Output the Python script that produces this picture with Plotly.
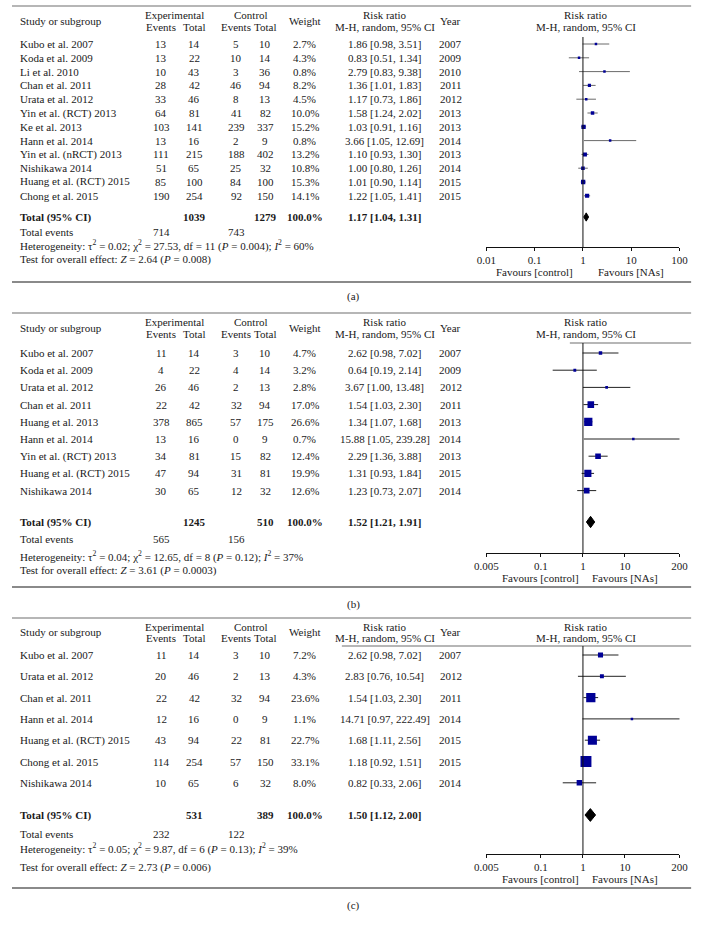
import numpy as np
import plotly.graph_objects as go

# ---------------- data ----------------
studies_a = ["Kubo et al. 2007", "Koda et al. 2009", "Li et al. 2010", "Chan et al. 2011",
             "Urata et al. 2012", "Yin et al. (RCT) 2013", "Ke et al. 2013", "Hann et al. 2014",
             "Yin et al. (nRCT) 2013", "Nishikawa 2014", "Huang et al. (RCT) 2015", "Chong et al. 2015"]
exp_events_a = [13, 13, 10, 28, 33, 64, 103, 13, 111, 51, 85, 190]
exp_total_a = [14, 22, 43, 42, 46, 81, 141, 16, 215, 65, 100, 254]
ctrl_events_a = [5, 10, 3, 46, 8, 41, 239, 2, 188, 25, 84, 92]
ctrl_total_a = [10, 14, 36, 94, 13, 82, 337, 9, 402, 32, 100, 150]
weight_a = [2.7, 4.3, 0.8, 8.2, 4.5, 10.0, 15.2, 0.8, 13.2, 10.8, 15.3, 14.1]
rr_a = [1.86, 0.83, 2.79, 1.36, 1.17, 1.58, 1.03, 3.66, 1.10, 1.00, 1.01, 1.22]
lo_a = [0.98, 0.51, 0.83, 1.01, 0.73, 1.24, 0.91, 1.05, 0.93, 0.80, 0.90, 1.05]
hi_a = [3.51, 1.34, 9.38, 1.83, 1.86, 2.02, 1.16, 12.69, 1.30, 1.26, 1.14, 1.41]
year_a = [2007, 2009, 2010, 2011, 2012, 2013, 2013, 2014, 2013, 2014, 2015, 2015]
total_a = dict(exp_total=1039, ctrl_total=1279, weight="100.0%", rr=1.17, lo=1.04, hi=1.31,
               exp_events=714, ctrl_events=743)
het_a = "Heterogeneity: τ<sup>2</sup> = 0.02; χ<sup>2</sup> = 27.53, df = 11 (<i>P</i> = 0.004); <i>I</i><sup>2</sup> = 60%"
test_a = "Test for overall effect: <i>Z</i> = 2.64 (<i>P</i> = 0.008)"
ticks_a = [0.01, 0.1, 1, 10, 100]
ticktext_a = ["0.01", "0.1", "1", "10", "100"]

studies_b = ["Kubo et al. 2007", "Koda et al. 2009", "Urata et al. 2012", "Chan et al. 2011",
             "Huang et al. 2013", "Hann et al. 2014", "Yin et al. (RCT) 2013",
             "Huang et al. (RCT) 2015", "Nishikawa 2014"]
exp_events_b = [11, 4, 26, 22, 378, 13, 34, 47, 30]
exp_total_b = [14, 22, 46, 42, 865, 16, 81, 94, 65]
ctrl_events_b = [3, 4, 2, 32, 57, 0, 15, 31, 12]
ctrl_total_b = [10, 14, 13, 94, 175, 9, 82, 81, 32]
weight_b = [4.7, 3.2, 2.8, 17.0, 26.6, 0.7, 12.4, 19.9, 12.6]
rr_b = [2.62, 0.64, 3.67, 1.54, 1.34, 15.88, 2.29, 1.31, 1.23]
lo_b = [0.98, 0.19, 1.00, 1.03, 1.07, 1.05, 1.36, 0.93, 0.73]
hi_b = [7.02, 2.14, 13.48, 2.30, 1.68, 239.28, 3.88, 1.84, 2.07]
year_b = [2007, 2009, 2012, 2011, 2013, 2014, 2013, 2015, 2014]
total_b = dict(exp_total=1245, ctrl_total=510, weight="100.0%", rr=1.52, lo=1.21, hi=1.91,
               exp_events=565, ctrl_events=156)
het_b = "Heterogeneity: τ<sup>2</sup> = 0.04; χ<sup>2</sup> = 12.65, df = 8 (<i>P</i> = 0.12); <i>I</i><sup>2</sup> = 37%"
test_b = "Test for overall effect: <i>Z</i> = 3.61 (<i>P</i> = 0.0003)"
ticks_bc = [0.005, 0.1, 1, 10, 200]
ticktext_bc = ["0.005", "0.1", "1", "10", "200"]

studies_c = ["Kubo et al. 2007", "Urata et al. 2012", "Chan et al. 2011", "Hann et al. 2014",
             "Huang et al. (RCT) 2015", "Chong et al. 2015", "Nishikawa 2014"]
exp_events_c = [11, 20, 22, 12, 43, 114, 10]
exp_total_c = [14, 46, 42, 16, 94, 254, 65]
ctrl_events_c = [3, 2, 32, 0, 22, 57, 6]
ctrl_total_c = [10, 13, 94, 9, 81, 150, 32]
weight_c = [7.2, 4.3, 23.6, 1.1, 22.7, 33.1, 8.0]
rr_c = [2.62, 2.83, 1.54, 14.71, 1.68, 1.18, 0.82]
lo_c = [0.98, 0.76, 1.03, 0.97, 1.11, 0.92, 0.33]
hi_c = [7.02, 10.54, 2.30, 222.49, 2.56, 1.51, 2.06]
year_c = [2007, 2012, 2011, 2014, 2015, 2015, 2014]
total_c = dict(exp_total=531, ctrl_total=389, weight="100.0%", rr=1.50, lo=1.12, hi=2.00,
               exp_events=232, ctrl_events=122)
het_c = "Heterogeneity: τ<sup>2</sup> = 0.05; χ<sup>2</sup> = 9.87, df = 6 (<i>P</i> = 0.13); <i>I</i><sup>2</sup> = 39%"
test_c = "Test for overall effect: <i>Z</i> = 2.73 (<i>P</i> = 0.006)"

# ---------------- layout / style ----------------
W, H = 704, 926
FONT = "Liberation Serif"
FS = 11
TXT = "#1a1a1a"
BLUE = "#000096"

def px(x):
    return x / W

def py(y):
    return 1 - y / H

# column centres (pixels)
X_LABEL = 6
X_EE, X_ET, X_EXP = 154, 188, 167
X_CE, X_CT, X_CTL = 231, 261, 246
X_W = 302
X_RR = 384
X_YR = 452
X_FOREST_HDR = 592
FX0, FX1 = 489, 688

panels = [
    dict(label="(a)", studies=studies_a, ee=exp_events_a, et=exp_total_a, ce=ctrl_events_a,
         ct=ctrl_total_a, w=weight_a, rr=rr_a, lo=lo_a, hi=hi_a, yr=year_a, tot=total_a,
         het=het_a, test=test_a, ticks=ticks_a, ticktext=ticktext_a,
         top_rule=6, h1=14.5, h2=27, hs=21, row0=44, step=13.8, total_px=217,
         ev_px=232, het_px=245.5, test_px=259.5, axis_px=247, fav_px=272, vtop=37,
         bottom_rule=282, label_px=297, hdr_line=None, msize=1.1, cicol="#6a6a6a", dh=0.3),
    dict(label="(b)", studies=studies_b, ee=exp_events_b, et=exp_total_b, ce=ctrl_events_b,
         ct=ctrl_total_b, w=weight_b, rr=rr_b, lo=lo_b, hi=hi_b, yr=year_b, tot=total_b,
         het=het_b, test=test_b, ticks=ticks_bc, ticktext=ticktext_bc,
         top_rule=313, h1=322, h2=334.5, hs=328, row0=353, step=17.2, total_px=522,
         ev_px=539, het_px=556, test_px=570, axis_px=553, fav_px=578, vtop=343,
         bottom_rule=587, label_px=604, hdr_line=(575, 700, 343), msize=1.6, cicol="#222222", dh=0.33),
    dict(label="(c)", studies=studies_c, ee=exp_events_c, et=exp_total_c, ce=ctrl_events_c,
         ct=ctrl_total_c, w=weight_c, rr=rr_c, lo=lo_c, hi=hi_c, yr=year_c, tot=total_c,
         het=het_c, test=test_c, ticks=ticks_bc, ticktext=ticktext_bc,
         top_rule=618, h1=627, h2=637.5, hs=632, row0=655, step=21.3, total_px=815,
         ev_px=834, het_px=848, test_px=867, axis_px=854, fav_px=879, vtop=646,
         bottom_rule=888, label_px=905, hdr_line=(340, 700, 646), msize=1.9, cicol="#222222", dh=0.3),
]

fig = go.Figure()
annotations = []
shapes = []
layout_axes = {}


def text(x, y, s, anchor="center", bold=False, size=FS):
    if bold:
        s = "<b>" + s + "</b>"
    annotations.append(dict(x=px(x), y=py(y), xref="paper", yref="paper", text=s,
                            showarrow=False, xanchor=anchor, yanchor="middle",
                            font=dict(family=FONT, size=size, color=TXT)))


def hrule(x0, x1, y, width=1.2, color="#6e6e6e"):
    shapes.append(dict(type="line", xref="paper", yref="paper", x0=px(x0), x1=px(x1),
                       y0=py(y), y1=py(y), line=dict(color=color, width=width)))


for n, P in enumerate(panels, start=1):
    xname = "x" if n == 1 else f"x{n}"
    yname = "y" if n == 1 else f"y{n}"
    xkey = "xaxis" if n == 1 else f"xaxis{n}"
    ykey = "yaxis" if n == 1 else f"yaxis{n}"
    row0, step = P["row0"], P["step"]

    def rowpx(i):
        return row0 + i * step

    # rules
    hrule(0, 700, P["top_rule"], width=1.2, color="#6e6e6e")
    hrule(0, 700, P["bottom_rule"], width=2.0, color="#8a8a8a")
    if P["hdr_line"]:
        x0, x1, yl = P["hdr_line"]
        hrule(x0, x1, yl, width=1.2, color="#6e6e6e")

    # headers
    text(X_LABEL, P["hs"], "Study or subgroup", anchor="left")
    text(X_EXP, P["h1"], "Experimental")
    text(X_EE, P["h2"], "Events")
    text(X_ET, P["h2"], "Total")
    text(X_CTL, P["h1"], "Control")
    text(X_CE, P["h2"], "Events")
    text(X_CT, P["h2"], "Total")
    text(X_W, P["hs"], "Weight")
    text(X_RR, P["h1"], "Risk ratio")
    text(X_RR, P["h2"], "M-H, random, 95% CI")
    text(X_YR, P["hs"], "Year")
    text(X_FOREST_HDR, P["h1"], "Risk ratio")
    text(X_FOREST_HDR, P["h2"], "M-H, random, 95% CI")

    # study rows
    for i, s in enumerate(P["studies"]):
        y = rowpx(i)
        text(X_LABEL, y, s, anchor="left")
        text(X_EE, y, str(P["ee"][i]))
        text(X_ET, y, str(P["et"][i]))
        text(X_CE, y, str(P["ce"][i]))
        text(X_CT, y, str(P["ct"][i]))
        text(X_W, y, f"{P['w'][i]:.1f}%")
        text(X_RR, y, f"{P['rr'][i]:.2f} [{P['lo'][i]:.2f}, {P['hi'][i]:.2f}]")
        text(X_YR, y, str(P["yr"][i]))

    T = P["tot"]
    text(X_LABEL, P["total_px"], "Total (95% CI)", anchor="left", bold=True)
    text(X_ET, P["total_px"], str(T["exp_total"]), bold=True)
    text(X_CT, P["total_px"], str(T["ctrl_total"]), bold=True)
    text(X_W, P["total_px"], T["weight"], bold=True)
    text(X_RR, P["total_px"], f"{T['rr']:.2f} [{T['lo']:.2f}, {T['hi']:.2f}]", bold=True)
    text(X_LABEL, P["ev_px"], "Total events", anchor="left")
    text(X_EE, P["ev_px"], str(T["exp_events"]))
    text(X_CE, P["ev_px"], str(T["ctrl_events"]))
    text(X_LABEL, P["het_px"], P["het"], anchor="left")
    text(X_LABEL, P["test_px"], P["test"], anchor="left")
    text(352, P["label_px"], P["label"])

    # forest plot traces
    n_st = len(P["studies"])
    idx = list(range(n_st))
    cx, cy = [], []
    for i in idx:
        cx += [P["lo"][i], P["hi"][i], None]
        cy += [i, i, None]
    fig.add_trace(go.Scatter(x=cx, y=cy, mode="lines", xaxis=xname, yaxis=yname,
                             line=dict(color=P["cicol"], width=1), hoverinfo="skip",
                             showlegend=False))
    sizes = [max(2.5, P["msize"] * np.sqrt(w)) for w in P["w"]]
    fig.add_trace(go.Scatter(x=P["rr"], y=idx, mode="markers", xaxis=xname, yaxis=yname,
                             marker=dict(symbol="square", size=sizes, color=BLUE, opacity=1,
                                         line=dict(width=0)),
                             showlegend=False))
    r_tot = (P["total_px"] - row0) / step
    dh = P["dh"]
    fig.add_trace(go.Scatter(x=[T["lo"], T["rr"], T["hi"], T["rr"], T["lo"]],
                             y=[r_tot, r_tot - dh, r_tot, r_tot + dh, r_tot],
                             mode="lines", fill="toself", fillcolor="black",
                             line=dict(color="black", width=1), xaxis=xname, yaxis=yname,
                             showlegend=False))

    r_axis = (P["axis_px"] - row0) / step
    r_top = (P["vtop"] - row0) / step
    lo_t, hi_t = P["ticks"][0], P["ticks"][-1]
    layout_axes[xkey] = dict(type="log", range=[np.log10(lo_t), np.log10(hi_t)],
                             domain=[px(FX0), px(FX1)], anchor=yname,
                             tickvals=P["ticks"], ticktext=P["ticktext"],
                             showline=True, linecolor="#111", linewidth=1,
                             ticks="outside", ticklen=3, tickcolor="#111", tickwidth=1,
                             showgrid=False, zeroline=False, fixedrange=True,
                             tickfont=dict(family=FONT, size=FS, color=TXT))
    layout_axes[ykey] = dict(domain=[py(P["axis_px"]), py(P["vtop"])],
                             range=[r_axis, r_top], anchor=xname, visible=False,
                             showgrid=False, zeroline=False, fixedrange=True)

    # vertical line at RR = 1
    shapes.append(dict(type="line", xref=xname, yref=f"{yname} domain", x0=1, x1=1, y0=0, y1=1,
                       line=dict(color="#111", width=1)))
    # favours labels
    tk = P["ticks"]
    for v, s in [(tk[1], "Favours [control]"), (tk[3], "Favours [NAs]")]:
        annotations.append(dict(x=np.log10(v), y=py(P["fav_px"]), xref=xname, yref="paper",
                                text=s, showarrow=False, xanchor="center", yanchor="middle",
                                font=dict(family=FONT, size=FS, color=TXT)))

fig.update_layout(width=W, height=H, autosize=False,
                  margin=dict(l=0, r=0, t=0, b=0),
                  paper_bgcolor="white", plot_bgcolor="white",
                  annotations=annotations, shapes=shapes, **layout_axes)

fig.write_html("out.html", config={"displayModeBar": False},
               post_script="document.body.style.margin='0px';")
